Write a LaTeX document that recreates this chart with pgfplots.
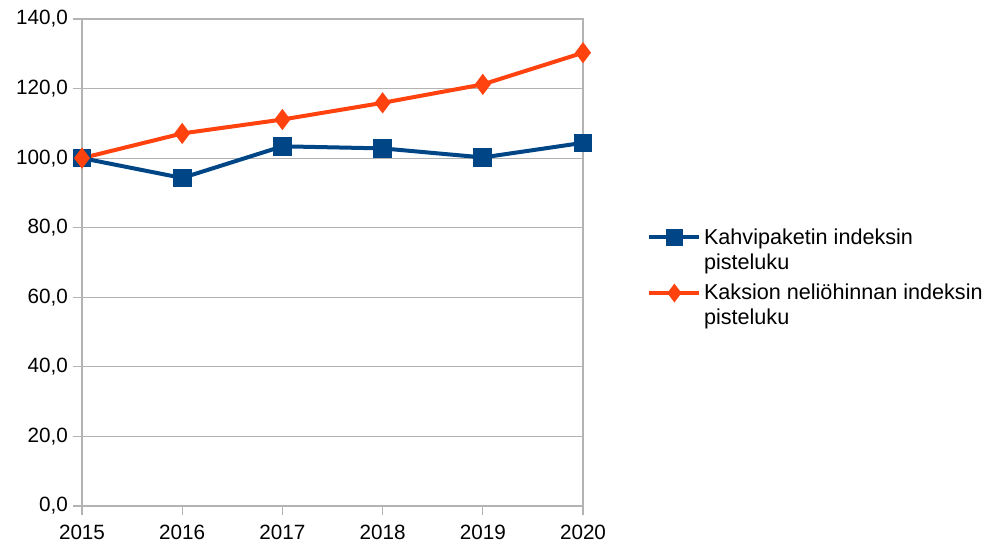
\documentclass[border=0pt]{standalone}
\usepackage{pgfplots}
\pgfplotsset{compat=1.18}
\usepackage{fontspec}
\setmainfont{Liberation Sans}
\definecolor{kahvi}{HTML}{004586}
\definecolor{kaksio}{HTML}{FF420E}
\definecolor{gridgray}{HTML}{B3B3B3}

\begin{document}
\begin{tikzpicture}[x=0.75pt,y=0.75pt]
  \begin{axis}[
      at={(0,0)}, anchor=south west,
      scale only axis,
      width=375.75pt, height=365.25pt,
      xmin=2015, xmax=2020,
      ymin=0, ymax=140,
      xtick={2015,2016,2017,2018,2019,2020},
      ytick={0,20,...,140},
      ymajorgrids,
      grid style={gridgray, line width=0.8pt},
      axis line style={gridgray, line width=0.8pt},
      tick style={gridgray, line width=0.8pt},
      tick align=outside,
      major tick length=7pt,
      xtick pos=bottom, ytick pos=left,
      font=\fontsize{15.5pt}{18pt}\selectfont,
      /pgf/number format/assume math mode=true,
      xticklabel style={/pgf/number format/1000 sep={}, yshift=-4pt},
      yticklabel style={/pgf/number format/.cd, fixed, fixed zerofill, precision=1, use comma},
      legend style={
        at={(1.128,0.588)}, anchor=north west,
        draw=none, fill=none, inner sep=0pt,
        nodes={align=left, inner sep=2pt},
        row sep=-3.25pt,
        font=\fontsize{16.2pt}{18.75pt}\selectfont,
      },
      legend cell align=left,
      legend image code/.code={
        \path (0pt,-21pt) (0pt,21pt);
        \draw[mark repeat=2, mark phase=2, #1, mark size=4.6pt]
          plot coordinates {(0pt,9.4pt) (18.75pt,9.4pt) (37.5pt,9.4pt)};
      },
    ]
    \addplot[kahvi, line width=3pt, mark=square*, mark size=5.5pt, mark options={solid}]
      coordinates {(2015,100.0) (2016,94.3) (2017,103.4) (2018,102.8) (2019,100.2) (2020,104.4)};
    \addlegendentry{Kahvipaketin indeksin\\pisteluku}
    \addplot[kaksio, line width=3pt, mark=diamond*, mark size=5.5pt, mark options={solid}]
      coordinates {(2015,100.0) (2016,107.1) (2017,111.1) (2018,115.9) (2019,121.2) (2020,130.3)};
    \addlegendentry{Kaksion neliöhinnan indeksin\\pisteluku}
  \end{axis}
  \pgfresetboundingbox
  \path[use as bounding box] (-82,-37) rectangle (906,506);
\end{tikzpicture}
\end{document}
